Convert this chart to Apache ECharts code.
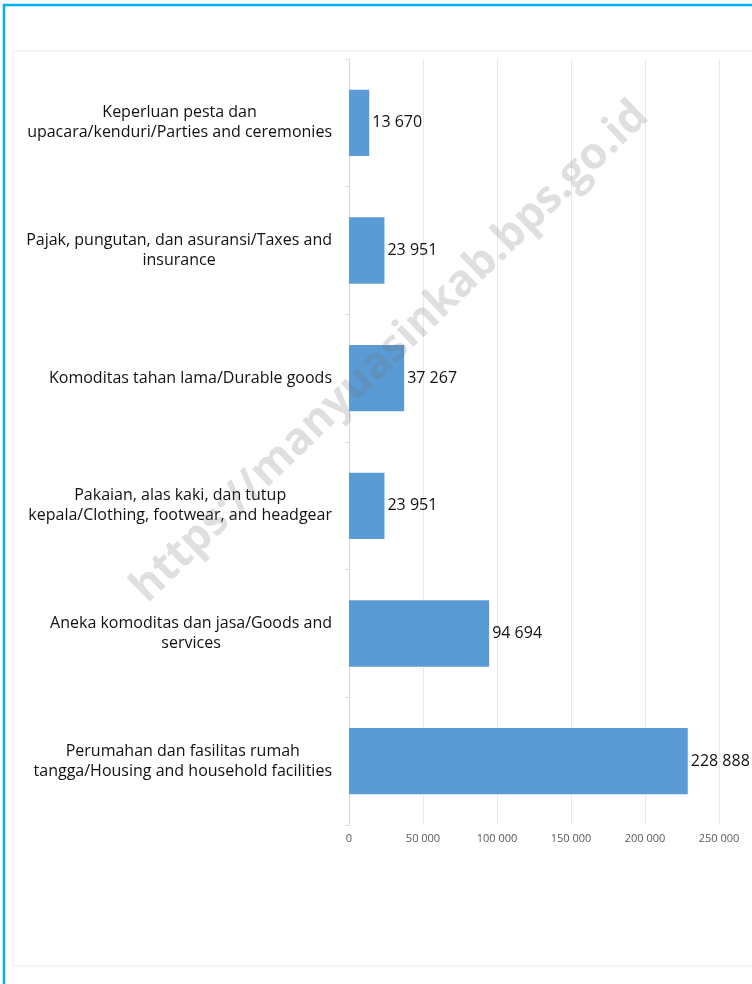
<!DOCTYPE html>
<html>
<head>
<meta charset="utf-8">
<script src="https://cdn.jsdelivr.net/npm/echarts@6/dist/echarts.min.js"></script>
<style>
  html, body { margin: 0; padding: 0; overflow: hidden; background: #fff; }
  #chart { width: 830px; height: 984px; }
</style>
</head>
<body>
<div id="chart"></div>
<script>
// kategori dari atas ke bawah
const categories = [
  'Keperluan pesta dan\nupacara/kenduri/Parties and ceremonies',
  'Pajak, pungutan, dan asuransi/Taxes and\ninsurance',
  'Komoditas tahan lama/Durable goods',
  'Pakaian, alas kaki, dan tutup\nkepala/Clothing, footwear, and headgear',
  'Aneka komoditas dan jasa/Goods and\nservices',
  'Perumahan dan fasilitas rumah\ntangga/Housing and household facilities'
]
const values = [13670, 23951, 37267, 23951, 94694, 228888]
const xTicks = [0, 50000, 100000, 150000, 200000, 250000, 300000]

// format angka dengan spasi ribuan
const fmt = v => String(v).replace(/\B(?=(\d{3})+(?!\d))/g, ' ')

const chart = echarts.init(document.getElementById('chart'))

const option = {
  animation: false,
  textStyle: { fontFamily: 'Open Sans' },
  grid: {
    left: 349,
    right: 830 - 793,
    top: 59,
    bottom: 984 - 825,
    containLabel: false
  },
  xAxis: {
    type: 'value',
    min: xTicks[0],
    max: xTicks[xTicks.length - 1],
    interval: xTicks[1] - xTicks[0],
    axisLine: { show: false },
    axisTick: { show: false },
    splitLine: { lineStyle: { color: '#e8e8e8', width: 1 } },
    axisLabel: {
      formatter: v => fmt(v),
      fontSize: 11,
      color: '#595959',
      margin: 8
    }
  },
  yAxis: {
    type: 'category',
    inverse: true,
    data: categories,
    axisLine: { show: true, lineStyle: { color: '#d9d9d9' } },
    axisTick: { show: true, length: 4, lineStyle: { color: '#d9d9d9' } },
    axisLabel: {
      margin: 17,
      align: 'right',
      formatter: v => v.split('\n').map(s => '{a|' + s + '}').join('\n'),
      rich: {
        a: { align: 'center', fontSize: 16, lineHeight: 20, color: '#111', fontFamily: 'Open Sans' }
      }
    }
  },
  series: [
    {
      type: 'bar',
      data: values,
      barWidth: '52%',
      itemStyle: { color: '#5b9bd5' },
      label: {
        show: true,
        position: 'right',
        distance: 3,
        formatter: p => fmt(p.value),
        fontSize: 16,
        color: '#111'
      }
    }
  ],
  graphic: [
    {
      type: 'rect',
      shape: { x: 4, y: 5, width: 900, height: 1000 },
      style: { fill: 'none', stroke: '#00b0f0', lineWidth: 2.5 },
      silent: true
    },
    {
      type: 'rect',
      shape: { x: 13, y: 51, width: 900, height: 915 },
      style: { fill: 'none', stroke: '#ececec', lineWidth: 1 },
      silent: true
    },
    {
      type: 'text',
      x: 390,
      y: 352,
      rotation: Math.PI * 44 / 180,
      z: 100,
      style: {
        text: 'https://manyuasinkab.bps.go.id',
        font: 'bold 44px "Open Sans"',
        fill: 'rgba(110,110,110,0.22)',
        align: 'center',
        verticalAlign: 'middle'
      },
      silent: true
    }
  ]
}

chart.setOption(option)
</script>
</body>
</html>
